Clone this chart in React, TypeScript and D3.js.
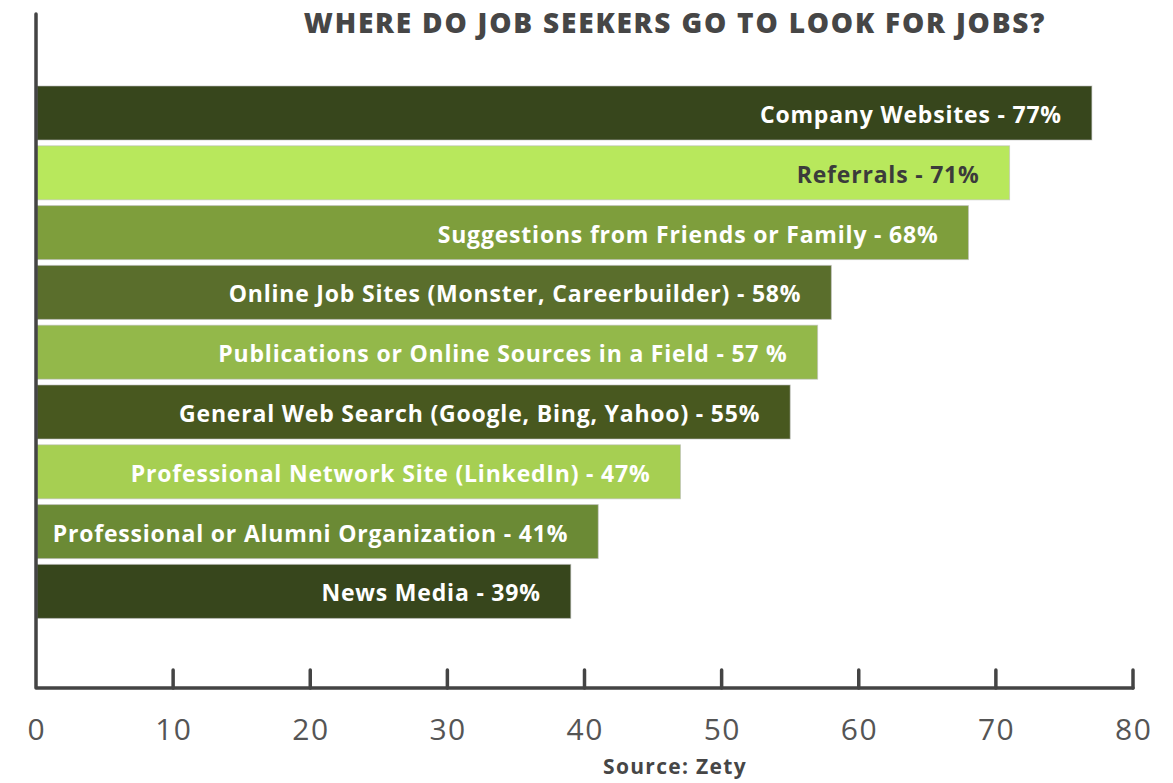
import * as d3 from "d3";

const categories = [
  "Company Websites",
  "Referrals",
  "Suggestions from Friends or Family",
  "Online Job Sites (Monster, Careerbuilder)",
  "Publications or Online Sources in a Field",
  "General Web Search (Google, Bing, Yahoo)",
  "Professional Network Site (LinkedIn)",
  "Professional or Alumni Organization",
  "News Media",
];
const values = [77, 71, 68, 58, 57, 55, 47, 41, 39];
const valueLabels = ["77%", "71%", "68%", "58%", "57 %", "55%", "47%", "41%", "39%"];
const barColors = [
  "#37461c",
  "#b8e85c",
  "#7e9e3c",
  "#5a6e2c",
  "#93b84a",
  "#48581f",
  "#a6cf52",
  "#6b8a35",
  "#37461c",
];
const labelColors = ["#fff", "#3b3b3b", "#fff", "#fff", "#fff", "#fff", "#fff", "#fff", "#fff"];
const xTicks = [0, 10, 20, 30, 40, 50, 60, 70, 80];

const W = 1173;
const H = 783;
const FONT = "'Open Sans', Lato, sans-serif";

export default function App() {
  const x = d3.scaleLinear().domain([0, 80]).range([36, 1133]);
  const y = d3
    .scaleBand<number>()
    .domain(d3.range(categories.length))
    .range([83.1, 621.3])
    .paddingInner(0.097)
    .paddingOuter(0.0485);
  const axisY = 688;

  return (
    <svg
      width={W}
      height={H}
      style={{ position: "absolute", left: 0, top: 0, background: "#fff" }}
      fontFamily={FONT}
    >
      <text
        x={675}
        y={22}
        textAnchor="middle"
        dominantBaseline="central"
        fontSize={28}
        fontWeight={800}
        letterSpacing={1.8}
        fill="#464646"
      >
        WHERE DO JOB SEEKERS GO TO LOOK FOR JOBS?
      </text>

      {values.map((v, i) => (
        <g key={i}>
          <rect
            x={x(0) + 1}
            y={y(i)!}
            width={x(v) - x(0) - 1}
            height={y.bandwidth()}
            fill={barColors[i]}
            stroke="#bdbdbd"
            strokeOpacity={0.6}
            strokeWidth={1}
          />
          <text
            x={x(v) - 30}
            y={y(i)! + y.bandwidth() / 2 + 1}
            textAnchor="end"
            dominantBaseline="central"
            fontSize={23}
            fontWeight={700}
            letterSpacing={0.8}
            fill={labelColors[i]}
          >
            {`${categories[i]} - ${valueLabels[i]}`}
          </text>
        </g>
      ))}

      <path
        d={`M${x(0)},14 L${x(0)},${axisY} L${x(80)},${axisY}`}
        fill="none"
        stroke="#444"
        strokeWidth={3.5}
        strokeLinecap="round"
        strokeLinejoin="round"
      />
      {xTicks.slice(1).map((t) => (
        <line
          key={t}
          x1={x(t)}
          x2={x(t)}
          y1={axisY}
          y2={axisY - 18}
          stroke="#444"
          strokeWidth={3.5}
          strokeLinecap="round"
        />
      ))}
      {xTicks.map((t) => (
        <text
          key={t}
          x={x(t) + 0.75}
          y={728}
          textAnchor="middle"
          dominantBaseline="central"
          fontSize={30}
          letterSpacing={1.5}
          fill="#555"
        >
          {t}
        </text>
      ))}

      <text
        x={675}
        y={766}
        textAnchor="middle"
        dominantBaseline="central"
        fontSize={21}
        fontWeight={700}
        letterSpacing={1.3}
        fill="#464646"
      >
        Source: Zety
      </text>
    </svg>
  );
}
